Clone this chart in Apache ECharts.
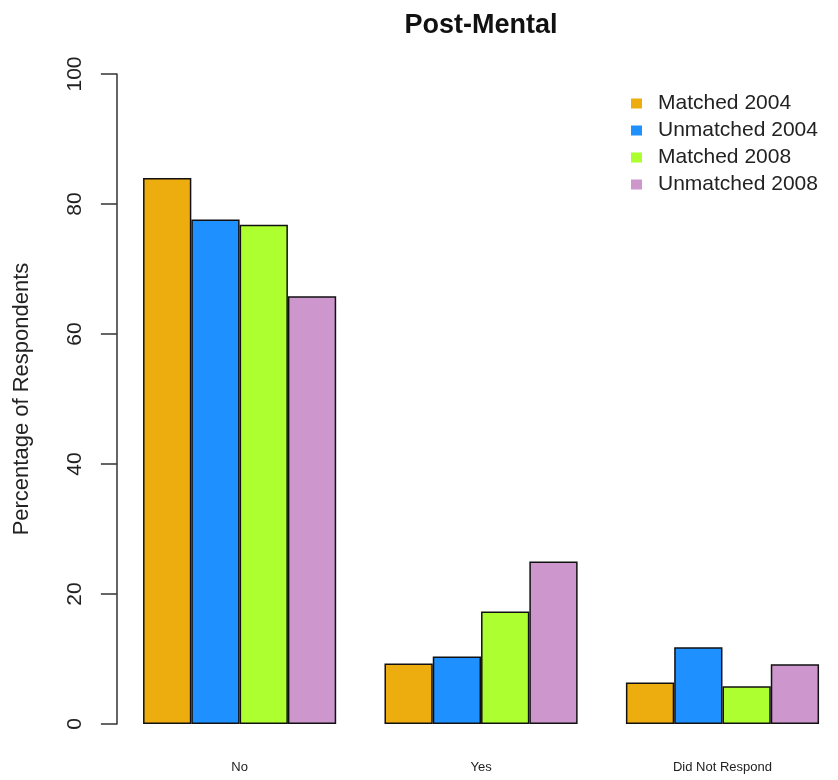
<!DOCTYPE html>
<html>
	<head>
		<meta charset="UTF-8">
		<title>Post-Mental</title>
		<script src="https://cdn.jsdelivr.net/npm/echarts@6/dist/echarts.min.js"></script>
		<style>
			html, body { margin: 0; padding: 0; background: #fff; overflow: hidden; }
			/* a bit wider than the window so the last group can sit at the right edge */
			#main { width: 846px; height: 780px; }
		</style>
	</head>
	<body>
		<div id="main"></div>
		<script>
			// categories and series
			var categories = ['No', 'Yes', 'Did Not Respond'];
			var seriesNames = ['Matched 2004', 'Unmatched 2004', 'Matched 2008', 'Unmatched 2008'];
			var matched2004 = [84.0, 9.3, 6.4];
			var unmatched2004 = [77.6, 10.4, 11.8];
			var matched2008 = [76.8, 17.3, 5.8];
			var unmatched2008 = [65.8, 25.0, 9.2];
			var colors = ['#EEAD0E', '#1E90FF', '#ADFF2F', '#CD96CD'];

			var values = [matched2004, unmatched2004, matched2008, unmatched2008];
			var font = 'Liberation Sans, Arial, sans-serif';

			var myChart = echarts.init(document.getElementById('main'));

			var series = [];
			for (var i = 0; i < seriesNames.length; i++) {
				series.push({
					name: seriesNames[i],
					type: 'bar',
					data: values[i],
					barGap: '0%',
					barCategoryGap: '20%',
					itemStyle: {
						color: colors[i],
						borderColor: '#111',
						borderWidth: 1.5
					}
				});
			}

			var option = {
				animation: false,
				title: {
					text: 'Post-Mental',
					left: 476,
					top: 7,
					textAlign: 'center',
					textStyle: {
						fontFamily: font,
						fontSize: 27,
						fontWeight: 'bold',
						color: '#111'
					}
				},
				legend: {
					data: seriesNames,
					orient: 'vertical',
					left: 626,
					top: 88,
					icon: 'rect',
					itemWidth: 11,
					itemHeight: 10,
					itemGap: 6,
					itemStyle: { borderWidth: 0 },
					textStyle: {
						fontFamily: font,
						fontSize: 21,
						lineHeight: 21,
						color: '#222',
						padding: [0, 0, 0, 11]
					}
				},
				grid: {
					left: 118.9,
					top: 74,
					width: 724.3,
					height: 650
				},
				xAxis: {
					type: 'category',
					data: categories,
					axisLine: { show: false },
					axisTick: { show: false },
					axisLabel: {
						margin: 37,
						fontFamily: font,
						fontSize: 13,
						color: '#222'
					}
				},
				yAxis: {
					type: 'value',
					min: 0,
					max: 100,
					interval: 20,
					offset: 2,
					name: 'Percentage of Respondents',
					nameLocation: 'middle',
					nameRotate: 90,
					nameGap: 84,
					nameTextStyle: {
						fontFamily: font,
						fontSize: 22,
						color: '#222'
					},
					axisLine: { show: true, lineStyle: { color: '#333', width: 1.5 } },
					axisTick: { show: true, length: 16, lineStyle: { color: '#333', width: 1.5 } },
					splitLine: { show: false },
					axisLabel: {
						rotate: 90,
						margin: 31,
						fontFamily: font,
						fontSize: 21,
						color: '#222'
					}
				},
				series: series
			};

			myChart.setOption(option);
		</script>
	</body>
</html>
